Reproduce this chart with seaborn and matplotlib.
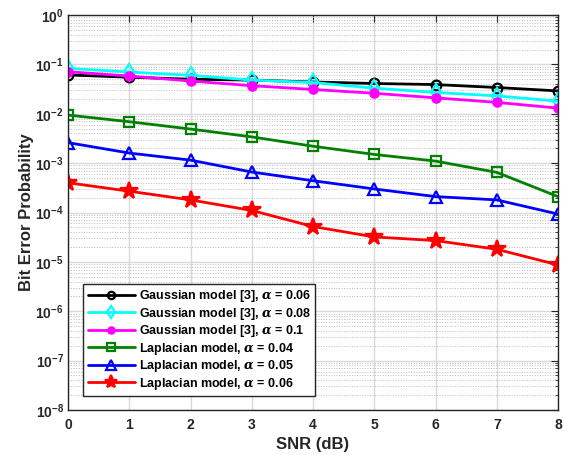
import numpy as np
import pandas as pd
import seaborn as sns
import matplotlib.pyplot as plt
from matplotlib.ticker import LogLocator, NullFormatter, FixedLocator

# values
snr = [0, 1, 2, 3, 4, 5, 6, 7, 8]
gauss_006 = [0.061, 0.055, 0.050, 0.048, 0.044, 0.041, 0.039, 0.034, 0.029]
gauss_008 = [0.083, 0.070, 0.060, 0.048, 0.043, 0.033, 0.027, 0.023, 0.018]
gauss_01 = [0.071, 0.058, 0.046, 0.037, 0.031, 0.026, 0.021, 0.017, 0.013]
lap_004 = [0.0094, 0.0069, 0.0049, 0.0034, 0.0022, 0.0015, 0.0011, 0.00065, 0.00021]
lap_005 = [0.0026, 0.0016, 0.00115, 0.00066, 0.00044, 0.00030, 0.00021, 0.00018, 0.000093]
lap_006 = [0.00040, 0.00027, 0.00018, 0.00011, 0.000052, 0.000032, 0.000027, 0.000018, 0.0000087]

labels = [r"Gaussian model [3], $\alpha$ = 0.06",
          r"Gaussian model [3], $\alpha$ = 0.08",
          r"Gaussian model [3], $\alpha$ = 0.1",
          r"Laplacian model, $\alpha$ = 0.04",
          r"Laplacian model, $\alpha$ = 0.05",
          r"Laplacian model, $\alpha$ = 0.06"]
series = [gauss_006, gauss_008, gauss_01, lap_004, lap_005, lap_006]

rows = []
for lab, vals in zip(labels, series):
    for s, v in zip(snr, vals):
        rows.append({"SNR": s, "BER": v, "curve": lab})
df = pd.DataFrame(rows)

sns.set_style("white")
plt.rcParams["font.family"] = ["Liberation Sans", "DejaVu Sans"]
plt.rcParams["font.weight"] = "bold"
plt.rcParams["mathtext.fontset"] = "custom"
plt.rcParams["mathtext.rm"] = "Liberation Sans:bold"
plt.rcParams["mathtext.it"] = "DejaVu Serif:italic"
plt.rcParams["mathtext.bf"] = "Liberation Sans:bold"
dark = "#262626"

# colour, marker, filled, marker size
styles = [("black", "o", False, 7),
          ("cyan", "d", False, 8),
          ("magenta", "o", True, 6),
          ("green", "s", False, 7),
          ("blue", "^", False, 9),
          ("red", "*", True, 13)]

fig = plt.figure(figsize=(5.64, 4.55), dpi=100)
ax = fig.add_axes([68 / 564, 45 / 455, 490 / 564, 395 / 455])

for lab, (col, mk, filled, ms) in zip(labels, styles):
    sns.lineplot(data=df[df["curve"] == lab], x="SNR", y="BER", ax=ax,
                 color=col, marker=mk, markersize=ms, linewidth=2,
                 markerfacecolor=col if filled else "none",
                 markeredgecolor=col, markeredgewidth=1.6, label=lab)

ax.set_yscale("log")
ax.set_xlim(0, 8)
ax.set_ylim(1e-8, 1)
ax.yaxis.set_major_locator(FixedLocator([10.0 ** k for k in range(-8, 1)]))
ax.yaxis.set_minor_locator(LogLocator(base=10, subs=np.arange(2, 10), numticks=20))
ax.yaxis.set_minor_formatter(NullFormatter())
ax.set_yticklabels([r"$10^{%d}$" % k for k in range(-8, 1)])

ax.grid(True, which="major", color="#d9d9d9", linewidth=1, linestyle="-")
ax.grid(True, which="minor", axis="y", color="#bdbdbd", linewidth=0.7, linestyle=":")
ax.set_axisbelow(True)

ax.tick_params(which="both", direction="in", top=True, right=True,
               colors=dark, labelsize=10)
ax.tick_params(which="major", length=5)
ax.tick_params(axis="x", which="major", pad=6)
ax.tick_params(axis="y", which="major", pad=3)
ax.tick_params(which="minor", length=2.5)
for sp in ax.spines.values():
    sp.set_color(dark)
    sp.set_linewidth(1)

ax.set_xlabel("SNR (dB)", fontsize=12, fontweight="bold", color=dark, labelpad=3)
ax.set_ylabel("Bit Error Probability", fontsize=12, fontweight="bold", color=dark, labelpad=1)

leg = ax.legend(loc="lower left", bbox_to_anchor=(0.031, 0.035), borderaxespad=0,
                fontsize=9, handlelength=3.8, labelspacing=0.12, borderpad=0.35,
                handletextpad=0.3, markerscale=0.75, fancybox=False,
                framealpha=1, edgecolor=dark)
leg.get_frame().set_linewidth(1)
for t in leg.get_texts():
    t.set_color("black")

fig.savefig("out.png", dpi=100)
